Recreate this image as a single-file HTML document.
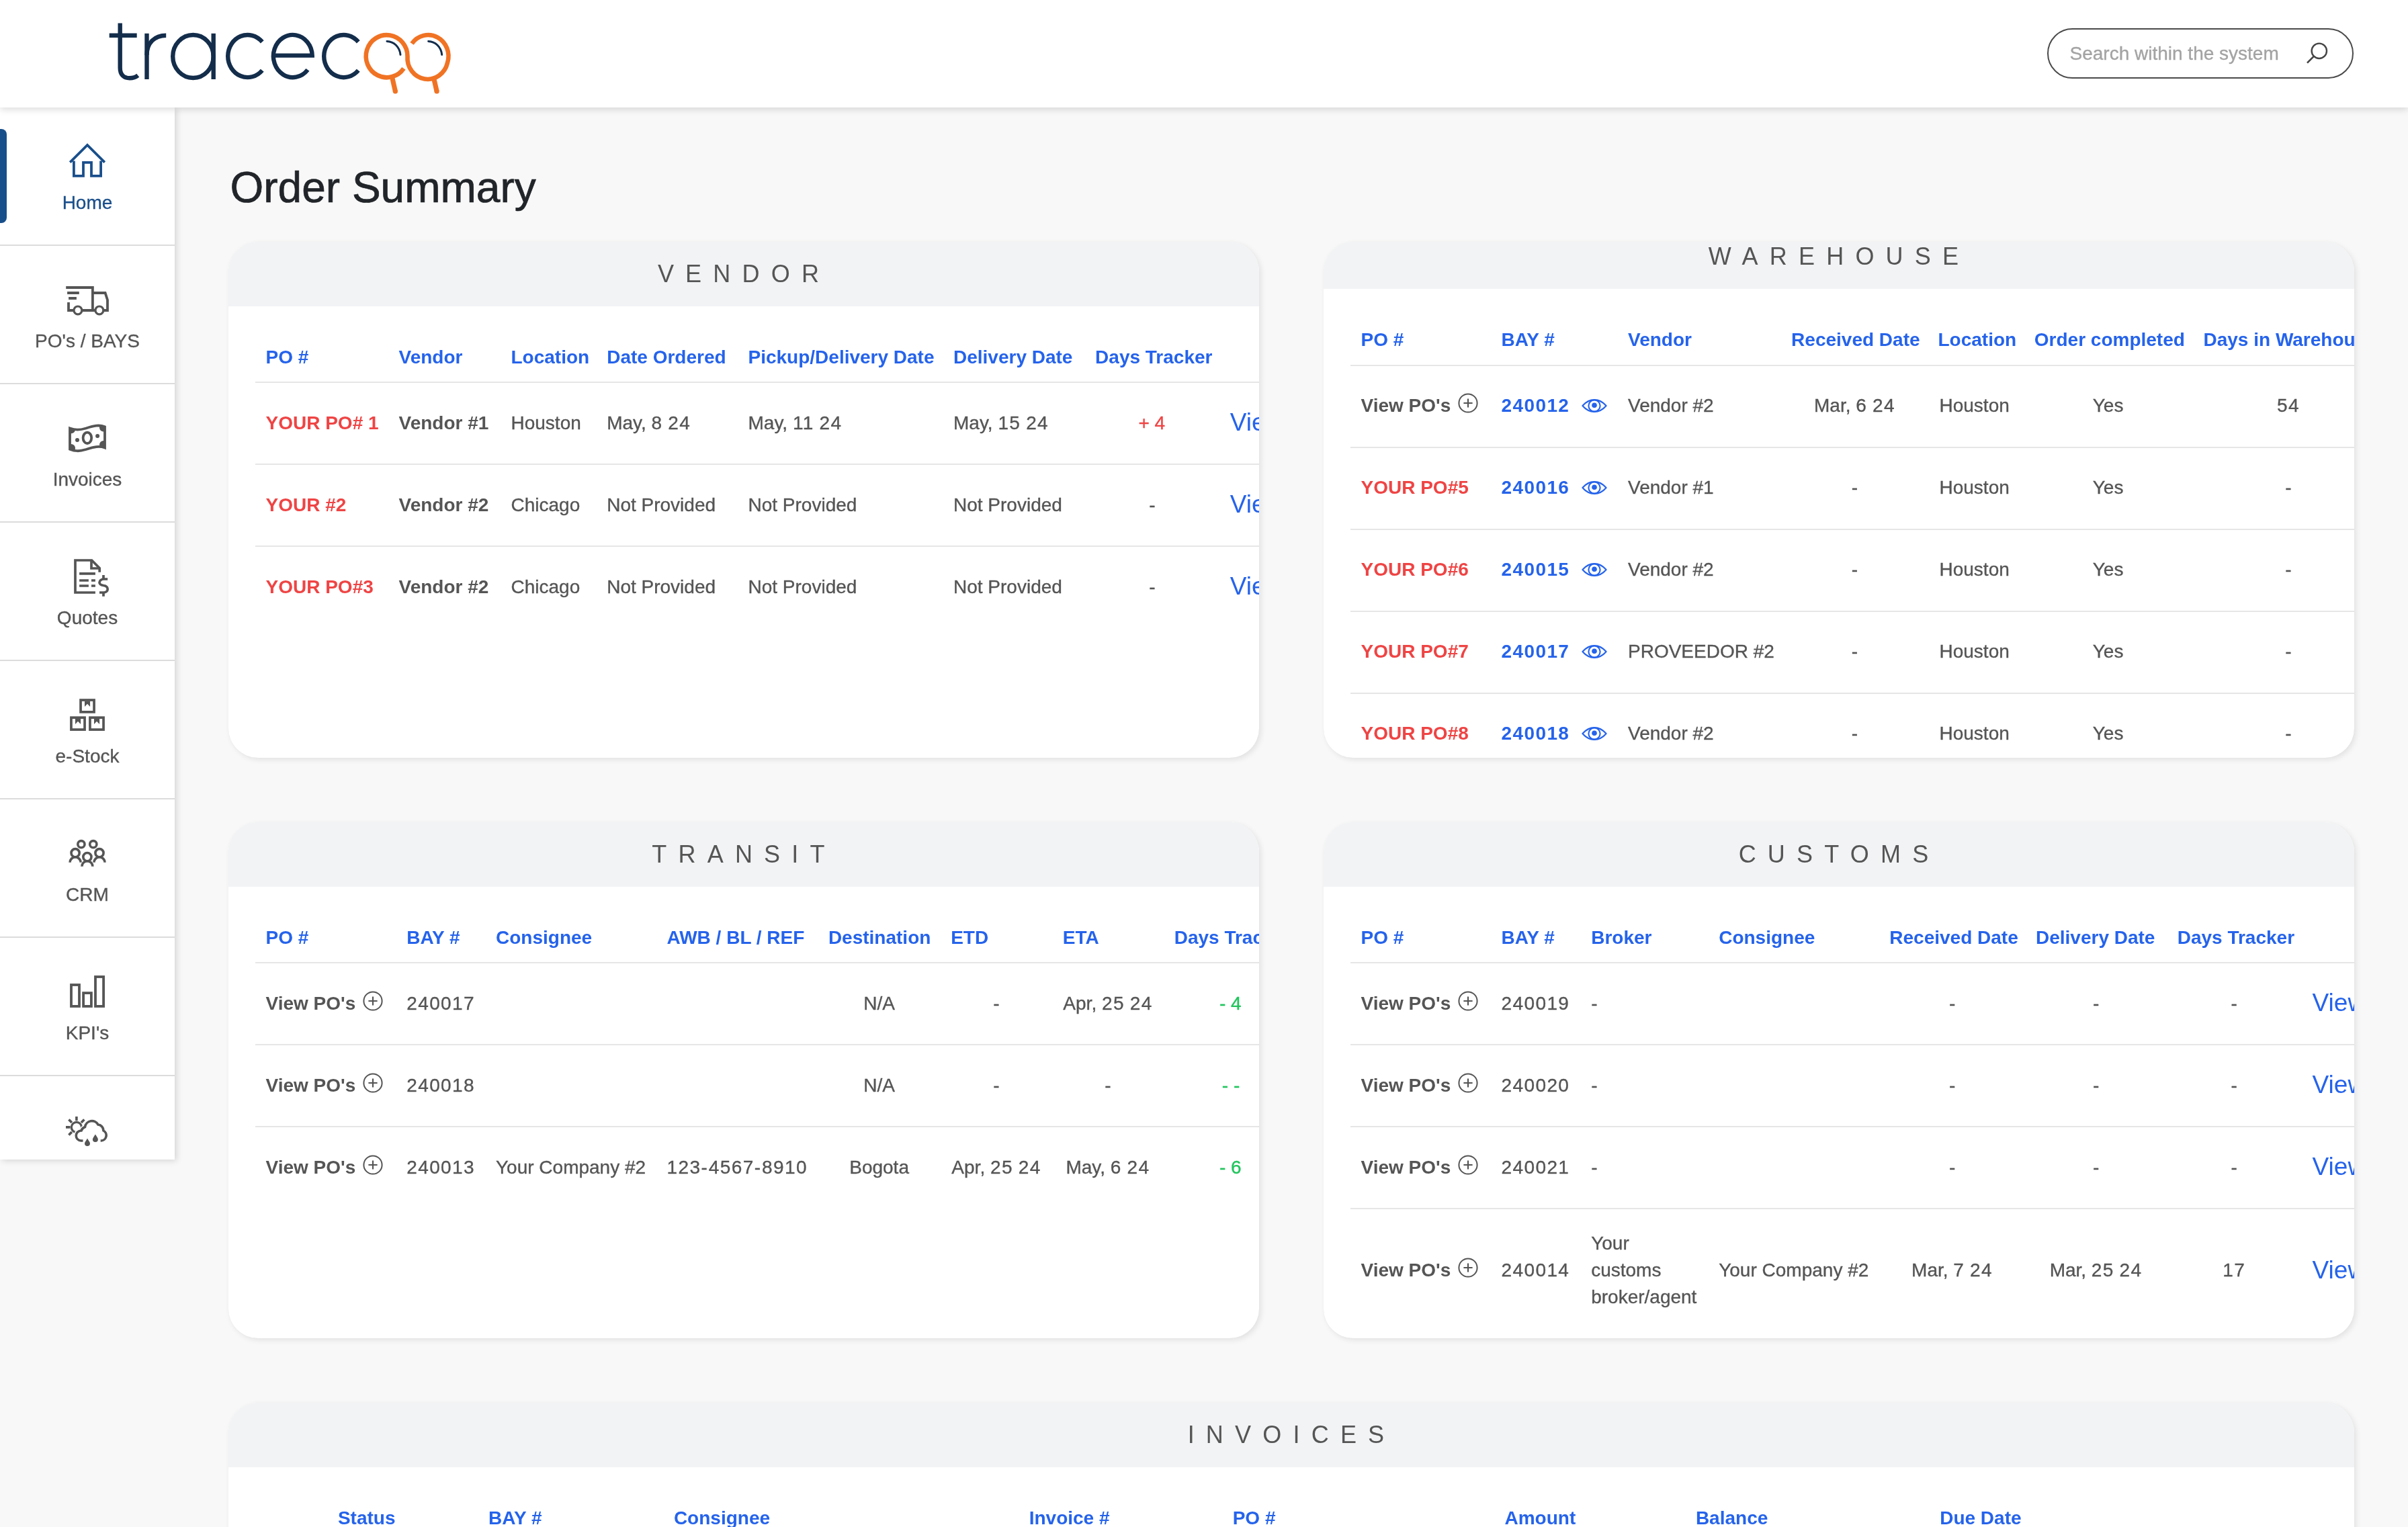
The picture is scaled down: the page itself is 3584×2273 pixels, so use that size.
<!DOCTYPE html><html><head><meta charset="utf-8"><title>Order Summary</title><style>

*{margin:0;padding:0;box-sizing:border-box}
html,body{width:3584px;height:2273px;overflow:hidden;background:#f8f8f8;font-family:"Liberation Sans",sans-serif}
#root{position:relative;width:3584px;height:2273px;overflow:hidden;will-change:transform}
.t{position:absolute;white-space:nowrap}
.d{letter-spacing:1.4px}
.h{letter-spacing:2px}
.ic{position:absolute;overflow:visible}
.ln{position:absolute}
#hdr{position:absolute;left:0;top:0;width:3584px;height:160px;background:#fff;box-shadow:0 3px 10px rgba(0,0,0,0.14);z-index:0}
#search{position:absolute;left:3047px;top:42px;width:456px;height:75px;border:2.2px solid #4a4a4a;border-radius:38px;background:#fff}
#side{position:absolute;left:0;top:160px;width:260px;height:1566px;background:#fff;box-shadow:3px 2px 9px rgba(0,0,0,0.14)}
#active{position:absolute;left:0;top:192px;width:10px;height:139.5px;background:#174f8a;border-radius:0 8px 8px 0}
.card{position:absolute;background:#fff;border-radius:44px;overflow:hidden;box-shadow:0 0 1.5px rgba(0,0,0,0.06),3px 3px 9px rgba(0,0,0,0.09)}
.inner{position:absolute;left:0;width:100%;height:1200px}
.band{position:absolute;left:0;top:0;width:100%;height:96px;background:#f2f3f5}

</style></head><body><div id="root">
<div class="t" style="left:342.5px;top:246.8px;font-size:64px;line-height:64px;color:#212529;-webkit-text-stroke:0.7px #212529;">Order Summary</div>
<div class="card" style="left:340px;top:359.5px;width:1534px;height:768px">
<div class="inner" style="top:0px">
<div class="band"></div>
<div class="t" style="left:167.5px;width:1200px;text-align:center;top:30.0px;font-size:36px;line-height:36px;color:#555555;letter-spacing:17.2px;">VENDOR</div>
<div class="t" style="left:55.5px;top:158.3px;font-size:28px;line-height:28px;color:#2563eb;font-weight:700;">PO #</div>
<div class="t" style="left:253.5px;top:158.3px;font-size:28px;line-height:28px;color:#2563eb;font-weight:700;">Vendor</div>
<div class="t" style="left:420.5px;top:158.3px;font-size:28px;line-height:28px;color:#2563eb;font-weight:700;">Location</div>
<div class="t" style="left:563.2px;top:158.3px;font-size:28px;line-height:28px;color:#2563eb;font-weight:700;">Date Ordered</div>
<div class="t" style="left:773.5px;top:158.3px;font-size:28px;line-height:28px;color:#2563eb;font-weight:700;">Pickup/Delivery Date</div>
<div class="t" style="left:1079.0px;top:158.3px;font-size:28px;line-height:28px;color:#2563eb;font-weight:700;">Delivery Date</div>
<div class="t" style="left:1290.1px;top:158.3px;font-size:28px;line-height:28px;color:#2563eb;font-weight:700;">Days Tracker</div>
<div class="ln" style="left:40px;top:208.5px;width:1494px;height:2px;background:#e6e6e6"></div>
<div class="t" style="left:55.5px;top:256.3px;font-size:28px;line-height:28px;color:#ef4444;font-weight:700;">YOUR PO# <span class="d">1</span></div>
<div class="t" style="left:253.5px;top:256.3px;font-size:28px;line-height:28px;color:#555555;font-weight:700;">Vendor #<span class="d">1</span></div>
<div class="t" style="left:420.5px;top:256.3px;font-size:28px;line-height:28px;color:#555555;-webkit-text-stroke:0.35px #555555;">Houston</div>
<div class="t" style="left:563.2px;top:256.3px;font-size:28px;line-height:28px;color:#555555;-webkit-text-stroke:0.35px #555555;">May, <span class="d">8</span> <span class="d">24</span></div>
<div class="t" style="left:773.5px;top:256.3px;font-size:28px;line-height:28px;color:#555555;-webkit-text-stroke:0.35px #555555;">May, <span class="d">11</span> <span class="d">24</span></div>
<div class="t" style="left:1079.0px;top:256.3px;font-size:28px;line-height:28px;color:#555555;-webkit-text-stroke:0.35px #555555;">May, <span class="d">15</span> <span class="d">24</span></div>
<div class="t" style="left:775.0px;width:1200px;text-align:center;top:256.3px;font-size:28px;line-height:28px;color:#ef4444;-webkit-text-stroke:0.35px #ef4444;">+ <span class="d">4</span></div>
<div class="t" style="left:1490.8px;top:250.7px;font-size:37px;line-height:37px;color:#2563eb;">View</div>
<div class="ln" style="left:40px;top:330.5px;width:1494px;height:2px;background:#e6e6e6"></div>
<div class="t" style="left:55.5px;top:378.3px;font-size:28px;line-height:28px;color:#ef4444;font-weight:700;">YOUR #<span class="d">2</span></div>
<div class="t" style="left:253.5px;top:378.3px;font-size:28px;line-height:28px;color:#555555;font-weight:700;">Vendor #<span class="d">2</span></div>
<div class="t" style="left:420.5px;top:378.3px;font-size:28px;line-height:28px;color:#555555;-webkit-text-stroke:0.35px #555555;">Chicago</div>
<div class="t" style="left:563.2px;top:378.3px;font-size:28px;line-height:28px;color:#555555;-webkit-text-stroke:0.35px #555555;">Not Provided</div>
<div class="t" style="left:773.5px;top:378.3px;font-size:28px;line-height:28px;color:#555555;-webkit-text-stroke:0.35px #555555;">Not Provided</div>
<div class="t" style="left:1079.0px;top:378.3px;font-size:28px;line-height:28px;color:#555555;-webkit-text-stroke:0.35px #555555;">Not Provided</div>
<div class="t" style="left:775.0px;width:1200px;text-align:center;top:378.3px;font-size:28px;line-height:28px;color:#555555;-webkit-text-stroke:0.35px #555555;">-</div>
<div class="t" style="left:1490.8px;top:372.7px;font-size:37px;line-height:37px;color:#2563eb;">View</div>
<div class="ln" style="left:40px;top:452.5px;width:1494px;height:2px;background:#e6e6e6"></div>
<div class="t" style="left:55.5px;top:500.3px;font-size:28px;line-height:28px;color:#ef4444;font-weight:700;">YOUR PO#<span class="d">3</span></div>
<div class="t" style="left:253.5px;top:500.3px;font-size:28px;line-height:28px;color:#555555;font-weight:700;">Vendor #<span class="d">2</span></div>
<div class="t" style="left:420.5px;top:500.3px;font-size:28px;line-height:28px;color:#555555;-webkit-text-stroke:0.35px #555555;">Chicago</div>
<div class="t" style="left:563.2px;top:500.3px;font-size:28px;line-height:28px;color:#555555;-webkit-text-stroke:0.35px #555555;">Not Provided</div>
<div class="t" style="left:773.5px;top:500.3px;font-size:28px;line-height:28px;color:#555555;-webkit-text-stroke:0.35px #555555;">Not Provided</div>
<div class="t" style="left:1079.0px;top:500.3px;font-size:28px;line-height:28px;color:#555555;-webkit-text-stroke:0.35px #555555;">Not Provided</div>
<div class="t" style="left:775.0px;width:1200px;text-align:center;top:500.3px;font-size:28px;line-height:28px;color:#555555;-webkit-text-stroke:0.35px #555555;">-</div>
<div class="t" style="left:1490.8px;top:494.7px;font-size:37px;line-height:37px;color:#2563eb;">View</div>
</div></div>
<div class="card" style="left:1970px;top:359.5px;width:1534px;height:768px">
<div class="inner" style="top:-25.5px">
<div class="band"></div>
<div class="t" style="left:167.5px;width:1200px;text-align:center;top:30.0px;font-size:36px;line-height:36px;color:#555555;letter-spacing:17.2px;">WAREHOUSE</div>
<div class="t" style="left:55.5px;top:158.3px;font-size:28px;line-height:28px;color:#2563eb;font-weight:700;">PO #</div>
<div class="t" style="left:264.5px;top:158.3px;font-size:28px;line-height:28px;color:#2563eb;font-weight:700;">BAY #</div>
<div class="t" style="left:453.0px;top:158.3px;font-size:28px;line-height:28px;color:#2563eb;font-weight:700;">Vendor</div>
<div class="t" style="left:696.1px;top:158.3px;font-size:28px;line-height:28px;color:#2563eb;font-weight:700;">Received Date</div>
<div class="t" style="left:914.5px;top:158.3px;font-size:28px;line-height:28px;color:#2563eb;font-weight:700;">Location</div>
<div class="t" style="left:1057.8px;top:158.3px;font-size:28px;line-height:28px;color:#2563eb;font-weight:700;">Order completed</div>
<div class="t" style="left:1309.5px;top:158.3px;font-size:28px;line-height:28px;color:#2563eb;font-weight:700;">Days in Warehouse</div>
<div class="ln" style="left:40px;top:208.5px;width:1494px;height:2px;background:#e6e6e6"></div>
<div class="t" style="left:55.5px;top:256.3px;font-size:28px;line-height:28px;color:#555555;font-weight:700;">View PO's</div>
<svg class="ic" style="left:199.4px;top:250px" width="32" height="32" viewBox="0 0 32 32"><circle cx="16" cy="16" r="13.6" fill="none" stroke="#555555" stroke-width="2"/><path d="M9.4 16H22.6M16 9.4V22.6" stroke="#555555" stroke-width="2.2"/></svg>
<div class="t" style="left:264.5px;top:256.3px;font-size:28px;line-height:28px;color:#2563eb;font-weight:700;"><span class="d">240012</span></div>
<svg class="ic" style="left:382.6px;top:258px" width="40" height="24" viewBox="0 0 40 24"><path d="M2.4 12 C8 5.5 14 3.1 20 3.1 S32 5.5 37.6 12 C32 18.5 26 20.9 20 20.9 S8 18.5 2.4 12Z" fill="none" stroke="#2563eb" stroke-width="2.1" stroke-linejoin="round"/><circle cx="20" cy="12" r="8.6" fill="none" stroke="#2563eb" stroke-width="2.1"/><circle cx="20" cy="11.3" r="3.8" fill="#2563eb"/></svg>
<div class="t" style="left:453.0px;top:256.3px;font-size:28px;line-height:28px;color:#555555;-webkit-text-stroke:0.35px #555555;">Vendor #<span class="d">2</span></div>
<div class="t" style="left:190.5px;width:1200px;text-align:center;top:256.3px;font-size:28px;line-height:28px;color:#555555;-webkit-text-stroke:0.35px #555555;">Mar, <span class="d">6</span> <span class="d">24</span></div>
<div class="t" style="left:916.5px;top:256.3px;font-size:28px;line-height:28px;color:#555555;-webkit-text-stroke:0.35px #555555;">Houston</div>
<div class="t" style="left:567.6px;width:1200px;text-align:center;top:256.3px;font-size:28px;line-height:28px;color:#555555;-webkit-text-stroke:0.35px #555555;">Yes</div>
<div class="t" style="left:836.0px;width:1200px;text-align:center;top:256.3px;font-size:28px;line-height:28px;color:#555555;-webkit-text-stroke:0.35px #555555;"><span class="d">54</span></div>
<div class="ln" style="left:40px;top:330.5px;width:1494px;height:2px;background:#e6e6e6"></div>
<div class="t" style="left:55.5px;top:378.3px;font-size:28px;line-height:28px;color:#ef4444;font-weight:700;">YOUR PO#<span class="d">5</span></div>
<div class="t" style="left:264.5px;top:378.3px;font-size:28px;line-height:28px;color:#2563eb;font-weight:700;"><span class="d">240016</span></div>
<svg class="ic" style="left:382.6px;top:380px" width="40" height="24" viewBox="0 0 40 24"><path d="M2.4 12 C8 5.5 14 3.1 20 3.1 S32 5.5 37.6 12 C32 18.5 26 20.9 20 20.9 S8 18.5 2.4 12Z" fill="none" stroke="#2563eb" stroke-width="2.1" stroke-linejoin="round"/><circle cx="20" cy="12" r="8.6" fill="none" stroke="#2563eb" stroke-width="2.1"/><circle cx="20" cy="11.3" r="3.8" fill="#2563eb"/></svg>
<div class="t" style="left:453.0px;top:378.3px;font-size:28px;line-height:28px;color:#555555;-webkit-text-stroke:0.35px #555555;">Vendor #<span class="d">1</span></div>
<div class="t" style="left:190.5px;width:1200px;text-align:center;top:378.3px;font-size:28px;line-height:28px;color:#555555;-webkit-text-stroke:0.35px #555555;">-</div>
<div class="t" style="left:916.5px;top:378.3px;font-size:28px;line-height:28px;color:#555555;-webkit-text-stroke:0.35px #555555;">Houston</div>
<div class="t" style="left:567.6px;width:1200px;text-align:center;top:378.3px;font-size:28px;line-height:28px;color:#555555;-webkit-text-stroke:0.35px #555555;">Yes</div>
<div class="t" style="left:836.0px;width:1200px;text-align:center;top:378.3px;font-size:28px;line-height:28px;color:#555555;-webkit-text-stroke:0.35px #555555;">-</div>
<div class="ln" style="left:40px;top:452.5px;width:1494px;height:2px;background:#e6e6e6"></div>
<div class="t" style="left:55.5px;top:500.3px;font-size:28px;line-height:28px;color:#ef4444;font-weight:700;">YOUR PO#<span class="d">6</span></div>
<div class="t" style="left:264.5px;top:500.3px;font-size:28px;line-height:28px;color:#2563eb;font-weight:700;"><span class="d">240015</span></div>
<svg class="ic" style="left:382.6px;top:502px" width="40" height="24" viewBox="0 0 40 24"><path d="M2.4 12 C8 5.5 14 3.1 20 3.1 S32 5.5 37.6 12 C32 18.5 26 20.9 20 20.9 S8 18.5 2.4 12Z" fill="none" stroke="#2563eb" stroke-width="2.1" stroke-linejoin="round"/><circle cx="20" cy="12" r="8.6" fill="none" stroke="#2563eb" stroke-width="2.1"/><circle cx="20" cy="11.3" r="3.8" fill="#2563eb"/></svg>
<div class="t" style="left:453.0px;top:500.3px;font-size:28px;line-height:28px;color:#555555;-webkit-text-stroke:0.35px #555555;">Vendor #<span class="d">2</span></div>
<div class="t" style="left:190.5px;width:1200px;text-align:center;top:500.3px;font-size:28px;line-height:28px;color:#555555;-webkit-text-stroke:0.35px #555555;">-</div>
<div class="t" style="left:916.5px;top:500.3px;font-size:28px;line-height:28px;color:#555555;-webkit-text-stroke:0.35px #555555;">Houston</div>
<div class="t" style="left:567.6px;width:1200px;text-align:center;top:500.3px;font-size:28px;line-height:28px;color:#555555;-webkit-text-stroke:0.35px #555555;">Yes</div>
<div class="t" style="left:836.0px;width:1200px;text-align:center;top:500.3px;font-size:28px;line-height:28px;color:#555555;-webkit-text-stroke:0.35px #555555;">-</div>
<div class="ln" style="left:40px;top:574.5px;width:1494px;height:2px;background:#e6e6e6"></div>
<div class="t" style="left:55.5px;top:622.3px;font-size:28px;line-height:28px;color:#ef4444;font-weight:700;">YOUR PO#<span class="d">7</span></div>
<div class="t" style="left:264.5px;top:622.3px;font-size:28px;line-height:28px;color:#2563eb;font-weight:700;"><span class="d">240017</span></div>
<svg class="ic" style="left:382.6px;top:624px" width="40" height="24" viewBox="0 0 40 24"><path d="M2.4 12 C8 5.5 14 3.1 20 3.1 S32 5.5 37.6 12 C32 18.5 26 20.9 20 20.9 S8 18.5 2.4 12Z" fill="none" stroke="#2563eb" stroke-width="2.1" stroke-linejoin="round"/><circle cx="20" cy="12" r="8.6" fill="none" stroke="#2563eb" stroke-width="2.1"/><circle cx="20" cy="11.3" r="3.8" fill="#2563eb"/></svg>
<div class="t" style="left:453.0px;top:622.3px;font-size:28px;line-height:28px;color:#555555;-webkit-text-stroke:0.35px #555555;">PROVEEDOR #<span class="d">2</span></div>
<div class="t" style="left:190.5px;width:1200px;text-align:center;top:622.3px;font-size:28px;line-height:28px;color:#555555;-webkit-text-stroke:0.35px #555555;">-</div>
<div class="t" style="left:916.5px;top:622.3px;font-size:28px;line-height:28px;color:#555555;-webkit-text-stroke:0.35px #555555;">Houston</div>
<div class="t" style="left:567.6px;width:1200px;text-align:center;top:622.3px;font-size:28px;line-height:28px;color:#555555;-webkit-text-stroke:0.35px #555555;">Yes</div>
<div class="t" style="left:836.0px;width:1200px;text-align:center;top:622.3px;font-size:28px;line-height:28px;color:#555555;-webkit-text-stroke:0.35px #555555;">-</div>
<div class="ln" style="left:40px;top:696.5px;width:1494px;height:2px;background:#e6e6e6"></div>
<div class="t" style="left:55.5px;top:744.3px;font-size:28px;line-height:28px;color:#ef4444;font-weight:700;">YOUR PO#<span class="d">8</span></div>
<div class="t" style="left:264.5px;top:744.3px;font-size:28px;line-height:28px;color:#2563eb;font-weight:700;"><span class="d">240018</span></div>
<svg class="ic" style="left:382.6px;top:746px" width="40" height="24" viewBox="0 0 40 24"><path d="M2.4 12 C8 5.5 14 3.1 20 3.1 S32 5.5 37.6 12 C32 18.5 26 20.9 20 20.9 S8 18.5 2.4 12Z" fill="none" stroke="#2563eb" stroke-width="2.1" stroke-linejoin="round"/><circle cx="20" cy="12" r="8.6" fill="none" stroke="#2563eb" stroke-width="2.1"/><circle cx="20" cy="11.3" r="3.8" fill="#2563eb"/></svg>
<div class="t" style="left:453.0px;top:744.3px;font-size:28px;line-height:28px;color:#555555;-webkit-text-stroke:0.35px #555555;">Vendor #<span class="d">2</span></div>
<div class="t" style="left:190.5px;width:1200px;text-align:center;top:744.3px;font-size:28px;line-height:28px;color:#555555;-webkit-text-stroke:0.35px #555555;">-</div>
<div class="t" style="left:916.5px;top:744.3px;font-size:28px;line-height:28px;color:#555555;-webkit-text-stroke:0.35px #555555;">Houston</div>
<div class="t" style="left:567.6px;width:1200px;text-align:center;top:744.3px;font-size:28px;line-height:28px;color:#555555;-webkit-text-stroke:0.35px #555555;">Yes</div>
<div class="t" style="left:836.0px;width:1200px;text-align:center;top:744.3px;font-size:28px;line-height:28px;color:#555555;-webkit-text-stroke:0.35px #555555;">-</div>
</div></div>
<div class="card" style="left:340px;top:1223.5px;width:1534px;height:768px">
<div class="inner" style="top:0px">
<div class="band"></div>
<div class="t" style="left:167.5px;width:1200px;text-align:center;top:30.0px;font-size:36px;line-height:36px;color:#555555;letter-spacing:17.2px;">TRANSIT</div>
<div class="t" style="left:55.5px;top:158.3px;font-size:28px;line-height:28px;color:#2563eb;font-weight:700;">PO #</div>
<div class="t" style="left:265.2px;top:158.3px;font-size:28px;line-height:28px;color:#2563eb;font-weight:700;">BAY #</div>
<div class="t" style="left:398.0px;top:158.3px;font-size:28px;line-height:28px;color:#2563eb;font-weight:700;">Consignee</div>
<div class="t" style="left:652.5px;top:158.3px;font-size:28px;line-height:28px;color:#2563eb;font-weight:700;">AWB / BL / REF</div>
<div class="t" style="left:892.9px;top:158.3px;font-size:28px;line-height:28px;color:#2563eb;font-weight:700;">Destination</div>
<div class="t" style="left:1075.2px;top:158.3px;font-size:28px;line-height:28px;color:#2563eb;font-weight:700;">ETD</div>
<div class="t" style="left:1241.8px;top:158.3px;font-size:28px;line-height:28px;color:#2563eb;font-weight:700;">ETA</div>
<div class="t" style="left:1407.7px;top:158.3px;font-size:28px;line-height:28px;color:#2563eb;font-weight:700;">Days Tracker</div>
<div class="ln" style="left:40px;top:208.5px;width:1494px;height:2px;background:#e6e6e6"></div>
<div class="t" style="left:55.5px;top:256.3px;font-size:28px;line-height:28px;color:#555555;font-weight:700;">View PO's</div>
<svg class="ic" style="left:199.4px;top:250px" width="32" height="32" viewBox="0 0 32 32"><circle cx="16" cy="16" r="13.6" fill="none" stroke="#555555" stroke-width="2"/><path d="M9.4 16H22.6M16 9.4V22.6" stroke="#555555" stroke-width="2.2"/></svg>
<div class="t" style="left:265.2px;top:256.3px;font-size:28px;line-height:28px;color:#555555;-webkit-text-stroke:0.35px #555555;"><span class="d">240017</span></div>
<div class="t" style="left:398.0px;top:256.3px;font-size:28px;line-height:28px;color:#555555;-webkit-text-stroke:0.35px #555555;"></div>
<div class="t" style="left:652.5px;top:256.3px;font-size:28px;line-height:28px;color:#555555;-webkit-text-stroke:0.35px #555555;"></div>
<div class="t" style="left:368.6px;width:1200px;text-align:center;top:256.3px;font-size:28px;line-height:28px;color:#555555;-webkit-text-stroke:0.35px #555555;">N/A</div>
<div class="t" style="left:543.0px;width:1200px;text-align:center;top:256.3px;font-size:28px;line-height:28px;color:#555555;-webkit-text-stroke:0.35px #555555;">-</div>
<div class="t" style="left:709.0px;width:1200px;text-align:center;top:256.3px;font-size:28px;line-height:28px;color:#555555;-webkit-text-stroke:0.35px #555555;">Apr, <span class="d">25</span> <span class="d">24</span></div>
<div class="t" style="left:892.0px;width:1200px;text-align:center;top:256.3px;font-size:28px;line-height:28px;color:#22c55e;-webkit-text-stroke:0.35px #22c55e;">- <span class="d">4</span></div>
<div class="ln" style="left:40px;top:330.5px;width:1494px;height:2px;background:#e6e6e6"></div>
<div class="t" style="left:55.5px;top:378.3px;font-size:28px;line-height:28px;color:#555555;font-weight:700;">View PO's</div>
<svg class="ic" style="left:199.4px;top:372px" width="32" height="32" viewBox="0 0 32 32"><circle cx="16" cy="16" r="13.6" fill="none" stroke="#555555" stroke-width="2"/><path d="M9.4 16H22.6M16 9.4V22.6" stroke="#555555" stroke-width="2.2"/></svg>
<div class="t" style="left:265.2px;top:378.3px;font-size:28px;line-height:28px;color:#555555;-webkit-text-stroke:0.35px #555555;"><span class="d">240018</span></div>
<div class="t" style="left:398.0px;top:378.3px;font-size:28px;line-height:28px;color:#555555;-webkit-text-stroke:0.35px #555555;"></div>
<div class="t" style="left:652.5px;top:378.3px;font-size:28px;line-height:28px;color:#555555;-webkit-text-stroke:0.35px #555555;"></div>
<div class="t" style="left:368.6px;width:1200px;text-align:center;top:378.3px;font-size:28px;line-height:28px;color:#555555;-webkit-text-stroke:0.35px #555555;">N/A</div>
<div class="t" style="left:543.0px;width:1200px;text-align:center;top:378.3px;font-size:28px;line-height:28px;color:#555555;-webkit-text-stroke:0.35px #555555;">-</div>
<div class="t" style="left:709.0px;width:1200px;text-align:center;top:378.3px;font-size:28px;line-height:28px;color:#555555;-webkit-text-stroke:0.35px #555555;">-</div>
<div class="t" style="left:892.0px;width:1200px;text-align:center;top:378.3px;font-size:28px;line-height:28px;color:#22c55e;-webkit-text-stroke:0.35px #22c55e;">- -</div>
<div class="ln" style="left:40px;top:452.5px;width:1494px;height:2px;background:#e6e6e6"></div>
<div class="t" style="left:55.5px;top:500.3px;font-size:28px;line-height:28px;color:#555555;font-weight:700;">View PO's</div>
<svg class="ic" style="left:199.4px;top:494px" width="32" height="32" viewBox="0 0 32 32"><circle cx="16" cy="16" r="13.6" fill="none" stroke="#555555" stroke-width="2"/><path d="M9.4 16H22.6M16 9.4V22.6" stroke="#555555" stroke-width="2.2"/></svg>
<div class="t" style="left:265.2px;top:500.3px;font-size:28px;line-height:28px;color:#555555;-webkit-text-stroke:0.35px #555555;"><span class="d">240013</span></div>
<div class="t" style="left:398.0px;top:500.3px;font-size:28px;line-height:28px;color:#555555;-webkit-text-stroke:0.35px #555555;">Your Company #<span class="d">2</span></div>
<div class="t" style="left:652.5px;top:500.3px;font-size:28px;line-height:28px;color:#555555;-webkit-text-stroke:0.35px #555555;"><span class="d">123</span><span class="h">-</span><span class="d">4567</span><span class="h">-</span><span class="d">8910</span></div>
<div class="t" style="left:368.6px;width:1200px;text-align:center;top:500.3px;font-size:28px;line-height:28px;color:#555555;-webkit-text-stroke:0.35px #555555;">Bogota</div>
<div class="t" style="left:543.0px;width:1200px;text-align:center;top:500.3px;font-size:28px;line-height:28px;color:#555555;-webkit-text-stroke:0.35px #555555;">Apr, <span class="d">25</span> <span class="d">24</span></div>
<div class="t" style="left:709.0px;width:1200px;text-align:center;top:500.3px;font-size:28px;line-height:28px;color:#555555;-webkit-text-stroke:0.35px #555555;">May, <span class="d">6</span> <span class="d">24</span></div>
<div class="t" style="left:892.0px;width:1200px;text-align:center;top:500.3px;font-size:28px;line-height:28px;color:#22c55e;-webkit-text-stroke:0.35px #22c55e;">- <span class="d">6</span></div>
</div></div>
<div class="card" style="left:1970px;top:1223.5px;width:1534px;height:768px">
<div class="inner" style="top:0px">
<div class="band"></div>
<div class="t" style="left:167.5px;width:1200px;text-align:center;top:30.0px;font-size:36px;line-height:36px;color:#555555;letter-spacing:17.2px;">CUSTOMS</div>
<div class="t" style="left:55.5px;top:158.3px;font-size:28px;line-height:28px;color:#2563eb;font-weight:700;">PO #</div>
<div class="t" style="left:264.5px;top:158.3px;font-size:28px;line-height:28px;color:#2563eb;font-weight:700;">BAY #</div>
<div class="t" style="left:398.2px;top:158.3px;font-size:28px;line-height:28px;color:#2563eb;font-weight:700;">Broker</div>
<div class="t" style="left:588.2px;top:158.3px;font-size:28px;line-height:28px;color:#2563eb;font-weight:700;">Consignee</div>
<div class="t" style="left:842.3px;top:158.3px;font-size:28px;line-height:28px;color:#2563eb;font-weight:700;">Received Date</div>
<div class="t" style="left:1060.0px;top:158.3px;font-size:28px;line-height:28px;color:#2563eb;font-weight:700;">Delivery Date</div>
<div class="t" style="left:1270.7px;top:158.3px;font-size:28px;line-height:28px;color:#2563eb;font-weight:700;">Days Tracker</div>
<div class="ln" style="left:40px;top:208.5px;width:1494px;height:2px;background:#e6e6e6"></div>
<div class="t" style="left:55.5px;top:256.3px;font-size:28px;line-height:28px;color:#555555;font-weight:700;">View PO's</div>
<svg class="ic" style="left:199.4px;top:250px" width="32" height="32" viewBox="0 0 32 32"><circle cx="16" cy="16" r="13.6" fill="none" stroke="#555555" stroke-width="2"/><path d="M9.4 16H22.6M16 9.4V22.6" stroke="#555555" stroke-width="2.2"/></svg>
<div class="t" style="left:264.5px;top:256.3px;font-size:28px;line-height:28px;color:#555555;-webkit-text-stroke:0.35px #555555;"><span class="d">240019</span></div>
<div class="t" style="left:398.2px;top:256.3px;font-size:28px;line-height:28px;color:#555555;-webkit-text-stroke:0.35px #555555;">-</div>
<div class="t" style="left:588.2px;top:256.3px;font-size:28px;line-height:28px;color:#555555;-webkit-text-stroke:0.35px #555555;"></div>
<div class="t" style="left:335.6px;width:1200px;text-align:center;top:256.3px;font-size:28px;line-height:28px;color:#555555;-webkit-text-stroke:0.35px #555555;">-</div>
<div class="t" style="left:549.6px;width:1200px;text-align:center;top:256.3px;font-size:28px;line-height:28px;color:#555555;-webkit-text-stroke:0.35px #555555;">-</div>
<div class="t" style="left:755.2px;width:1200px;text-align:center;top:256.3px;font-size:28px;line-height:28px;color:#555555;-webkit-text-stroke:0.35px #555555;">-</div>
<div class="t" style="left:1471.6px;top:250.7px;font-size:37px;line-height:37px;color:#2563eb;">View</div>
<div class="ln" style="left:40px;top:330.5px;width:1494px;height:2px;background:#e6e6e6"></div>
<div class="t" style="left:55.5px;top:378.3px;font-size:28px;line-height:28px;color:#555555;font-weight:700;">View PO's</div>
<svg class="ic" style="left:199.4px;top:372px" width="32" height="32" viewBox="0 0 32 32"><circle cx="16" cy="16" r="13.6" fill="none" stroke="#555555" stroke-width="2"/><path d="M9.4 16H22.6M16 9.4V22.6" stroke="#555555" stroke-width="2.2"/></svg>
<div class="t" style="left:264.5px;top:378.3px;font-size:28px;line-height:28px;color:#555555;-webkit-text-stroke:0.35px #555555;"><span class="d">240020</span></div>
<div class="t" style="left:398.2px;top:378.3px;font-size:28px;line-height:28px;color:#555555;-webkit-text-stroke:0.35px #555555;">-</div>
<div class="t" style="left:588.2px;top:378.3px;font-size:28px;line-height:28px;color:#555555;-webkit-text-stroke:0.35px #555555;"></div>
<div class="t" style="left:335.6px;width:1200px;text-align:center;top:378.3px;font-size:28px;line-height:28px;color:#555555;-webkit-text-stroke:0.35px #555555;">-</div>
<div class="t" style="left:549.6px;width:1200px;text-align:center;top:378.3px;font-size:28px;line-height:28px;color:#555555;-webkit-text-stroke:0.35px #555555;">-</div>
<div class="t" style="left:755.2px;width:1200px;text-align:center;top:378.3px;font-size:28px;line-height:28px;color:#555555;-webkit-text-stroke:0.35px #555555;">-</div>
<div class="t" style="left:1471.6px;top:372.7px;font-size:37px;line-height:37px;color:#2563eb;">View</div>
<div class="ln" style="left:40px;top:452.5px;width:1494px;height:2px;background:#e6e6e6"></div>
<div class="t" style="left:55.5px;top:500.3px;font-size:28px;line-height:28px;color:#555555;font-weight:700;">View PO's</div>
<svg class="ic" style="left:199.4px;top:494px" width="32" height="32" viewBox="0 0 32 32"><circle cx="16" cy="16" r="13.6" fill="none" stroke="#555555" stroke-width="2"/><path d="M9.4 16H22.6M16 9.4V22.6" stroke="#555555" stroke-width="2.2"/></svg>
<div class="t" style="left:264.5px;top:500.3px;font-size:28px;line-height:28px;color:#555555;-webkit-text-stroke:0.35px #555555;"><span class="d">240021</span></div>
<div class="t" style="left:398.2px;top:500.3px;font-size:28px;line-height:28px;color:#555555;-webkit-text-stroke:0.35px #555555;">-</div>
<div class="t" style="left:588.2px;top:500.3px;font-size:28px;line-height:28px;color:#555555;-webkit-text-stroke:0.35px #555555;"></div>
<div class="t" style="left:335.6px;width:1200px;text-align:center;top:500.3px;font-size:28px;line-height:28px;color:#555555;-webkit-text-stroke:0.35px #555555;">-</div>
<div class="t" style="left:549.6px;width:1200px;text-align:center;top:500.3px;font-size:28px;line-height:28px;color:#555555;-webkit-text-stroke:0.35px #555555;">-</div>
<div class="t" style="left:755.2px;width:1200px;text-align:center;top:500.3px;font-size:28px;line-height:28px;color:#555555;-webkit-text-stroke:0.35px #555555;">-</div>
<div class="t" style="left:1471.6px;top:494.7px;font-size:37px;line-height:37px;color:#2563eb;">View</div>
<div class="ln" style="left:40px;top:574.5px;width:1494px;height:2px;background:#e6e6e6"></div>
<div class="t" style="left:55.5px;top:653.7px;font-size:28px;line-height:28px;color:#555555;font-weight:700;">View PO's</div>
<svg class="ic" style="left:199.4px;top:647.4px" width="32" height="32" viewBox="0 0 32 32"><circle cx="16" cy="16" r="13.6" fill="none" stroke="#555555" stroke-width="2"/><path d="M9.4 16H22.6M16 9.4V22.6" stroke="#555555" stroke-width="2.2"/></svg>
<div class="t" style="left:264.5px;top:653.7px;font-size:28px;line-height:28px;color:#555555;-webkit-text-stroke:0.35px #555555;"><span class="d">240014</span></div>
<div class="t" style="left:398.2px;top:613.7px;font-size:28px;line-height:28px;color:#555555;-webkit-text-stroke:0.35px #555555;">Your</div>
<div class="t" style="left:398.2px;top:653.7px;font-size:28px;line-height:28px;color:#555555;-webkit-text-stroke:0.35px #555555;">customs</div>
<div class="t" style="left:398.2px;top:693.7px;font-size:28px;line-height:28px;color:#555555;-webkit-text-stroke:0.35px #555555;">broker/agent</div>
<div class="t" style="left:588.2px;top:653.7px;font-size:28px;line-height:28px;color:#555555;-webkit-text-stroke:0.35px #555555;">Your Company #<span class="d">2</span></div>
<div class="t" style="left:335.6px;width:1200px;text-align:center;top:653.7px;font-size:28px;line-height:28px;color:#555555;-webkit-text-stroke:0.35px #555555;">Mar, <span class="d">7</span> <span class="d">24</span></div>
<div class="t" style="left:549.6px;width:1200px;text-align:center;top:653.7px;font-size:28px;line-height:28px;color:#555555;-webkit-text-stroke:0.35px #555555;">Mar, <span class="d">25</span> <span class="d">24</span></div>
<div class="t" style="left:755.2px;width:1200px;text-align:center;top:653.7px;font-size:28px;line-height:28px;color:#555555;-webkit-text-stroke:0.35px #555555;"><span class="d">17</span></div>
<div class="t" style="left:1471.6px;top:648.1px;font-size:37px;line-height:37px;color:#2563eb;">View</div>
</div></div>
<div class="card" style="left:340px;top:2088px;width:3164px;height:600px">
<div class="inner" style="top:0px">
<div class="band"></div>
<div class="t" style="left:982.5px;width:1200px;text-align:center;top:30.0px;font-size:36px;line-height:36px;color:#555555;letter-spacing:17.2px;">INVOICES</div>
<div class="t" style="left:162.9px;top:158.3px;font-size:28px;line-height:28px;color:#2563eb;font-weight:700;">Status</div>
<div class="t" style="left:387.1px;top:158.3px;font-size:28px;line-height:28px;color:#2563eb;font-weight:700;">BAY #</div>
<div class="t" style="left:662.9px;top:158.3px;font-size:28px;line-height:28px;color:#2563eb;font-weight:700;">Consignee</div>
<div class="t" style="left:1191.7px;top:158.3px;font-size:28px;line-height:28px;color:#2563eb;font-weight:700;">Invoice #</div>
<div class="t" style="left:1494.7px;top:158.3px;font-size:28px;line-height:28px;color:#2563eb;font-weight:700;">PO #</div>
<div class="t" style="left:1899.5px;top:158.3px;font-size:28px;line-height:28px;color:#2563eb;font-weight:700;">Amount</div>
<div class="t" style="left:2183.9px;top:158.3px;font-size:28px;line-height:28px;color:#2563eb;font-weight:700;">Balance</div>
<div class="t" style="left:2547.2px;top:158.3px;font-size:28px;line-height:28px;color:#2563eb;font-weight:700;">Due Date</div>
</div></div>
<div id="side"></div>
<div id="active"></div>
<div class="ln" style="left:0px;top:364px;width:260px;height:2px;background:#dcdcdc"></div>
<div class="ln" style="left:0px;top:570px;width:260px;height:2px;background:#dcdcdc"></div>
<div class="ln" style="left:0px;top:776px;width:260px;height:2px;background:#dcdcdc"></div>
<div class="ln" style="left:0px;top:982px;width:260px;height:2px;background:#dcdcdc"></div>
<div class="ln" style="left:0px;top:1188px;width:260px;height:2px;background:#dcdcdc"></div>
<div class="ln" style="left:0px;top:1394px;width:260px;height:2px;background:#dcdcdc"></div>
<div class="ln" style="left:0px;top:1600px;width:260px;height:2px;background:#dcdcdc"></div>
<div class="t" style="left:-470.0px;width:1200px;text-align:center;top:288.1px;font-size:28px;line-height:28px;color:#1a4f8b;-webkit-text-stroke:0.35px #1a4f8b;">Home</div>
<div class="t" style="left:-470.0px;width:1200px;text-align:center;top:494.1px;font-size:28px;line-height:28px;color:#555555;-webkit-text-stroke:0.35px #555555;">PO's / BAYS</div>
<div class="t" style="left:-470.0px;width:1200px;text-align:center;top:700.1px;font-size:28px;line-height:28px;color:#555555;-webkit-text-stroke:0.35px #555555;">Invoices</div>
<div class="t" style="left:-470.0px;width:1200px;text-align:center;top:906.1px;font-size:28px;line-height:28px;color:#555555;-webkit-text-stroke:0.35px #555555;">Quotes</div>
<div class="t" style="left:-470.0px;width:1200px;text-align:center;top:1112.1px;font-size:28px;line-height:28px;color:#555555;-webkit-text-stroke:0.35px #555555;">e-Stock</div>
<div class="t" style="left:-470.0px;width:1200px;text-align:center;top:1318.1px;font-size:28px;line-height:28px;color:#555555;-webkit-text-stroke:0.35px #555555;">CRM</div>
<div class="t" style="left:-470.0px;width:1200px;text-align:center;top:1524.1px;font-size:28px;line-height:28px;color:#555555;-webkit-text-stroke:0.35px #555555;">KPI's</div>
<svg class="ic" style="left:0;top:160px" width="260" height="1566" viewBox="0 160 260 1566">
<g fill="none" stroke="#1a4f8b" stroke-width="3.8" stroke-linejoin="miter">
<path d="M104.2 241.7 L130 215.9 L155.8 241.7"/>
<path d="M109.9 239.5 V261.9 H124 V241.9 H136 V261.9 H150.1 V239.5"/>
</g>
<g fill="none" stroke="#555555" stroke-width="3.8">
<path d="M98.2 428 H137.9 V462 H102 V450.1"/>
<path d="M137.9 436 H156.6 L160 446.5 V462 H137.9"/>
<path d="M100.1 436 H117.8 M102.1 444 H113.9"/>
</g>
<g fill="#fff" stroke="#555555" stroke-width="3.2">
<circle cx="115.9" cy="461.9" r="5.9"/><circle cx="147.9" cy="461.9" r="5.9"/>
</g>
<g fill="none" stroke="#555555" stroke-width="3.8">
<path d="M104 637.5 C112 640.5 118 640.5 128 637.5 C140 633.5 148 632 156 635.3 V666.5 C148 663.5 140 665 128 669 C118 672 112 672 104 668.8 Z"/>
<ellipse cx="129.9" cy="651.8" rx="6.3" ry="8.2"/>
</g>
<g fill="#555555">
<circle cx="115" cy="655" r="3"/><circle cx="145.1" cy="648.9" r="3"/>
</g>
<clipPath id="billclip"><path d="M104 637.5 C112 640.5 118 640.5 128 637.5 C140 633.5 148 632 156 635.3 V666.5 C148 663.5 140 665 128 669 C118 672 112 672 104 668.8 Z"/></clipPath>
<g fill="#555555" clip-path="url(#billclip)">
<circle cx="106" cy="639.3" r="6"/>
<circle cx="154" cy="636.5" r="6"/>
<circle cx="106" cy="667" r="6"/>
<circle cx="154" cy="662" r="6"/>
</g>
<g fill="none" stroke="#555555" stroke-width="3.7">
<path d="M141.9 882 H112 V834 H136.6 L148.2 845.8 V851.8"/>
<path d="M136 834 V846 H148"/>
<path d="M118.1 853.8 H141.9 M118.1 864 H131.9 M136 864 H141.9 M118.1 872 H131.9 M136 872 H141.9"/>
<path d="M154 856.1 V861 M154 881 V887.7"/>
<path d="M160.2 862 H154.5 C150.5 862 148 864.5 148 867 C148 870 151 871 154 871.5 C157.5 872 160.2 874 160.2 877 C160.2 880 157.5 882 154 882 H148"/>
</g>
<g fill="none" stroke="#555555" stroke-width="3.7">
<rect x="120.05" y="1042.05" width="20" height="17.8"/>
<rect x="105.95" y="1068.15" width="20.1" height="17.9"/>
<rect x="133.95" y="1068.15" width="20.1" height="17.9"/>
</g>
<g fill="#555555">
<path d="M126 1043.9 H134.1 V1052 L130 1047.7 L126 1052Z"/>
<path d="M112 1070 H120.1 V1078 L116 1073.7 L112 1078Z"/>
<path d="M140 1070 H148.1 V1078 L144 1073.7 L140 1078Z"/>
</g>
<g fill="none" stroke="#555555" stroke-width="3.6">
<circle cx="120.9" cy="1256.7" r="5.1"/><circle cx="138.8" cy="1256.7" r="5.1"/>
<circle cx="112.1" cy="1269.7" r="6.1"/><circle cx="148" cy="1269.7" r="6.1"/>
<path d="M104.1 1283.8 A8 8 0 0 1 120.1 1283.8"/>
<path d="M140 1283.8 A8 8 0 0 1 156 1283.8"/>
<circle cx="129.9" cy="1275.6" r="6.1"/>
<path d="M121.9 1289.7 A8 8 0 0 1 137.9 1289.7"/>
</g>
<g fill="none" stroke="#555555" stroke-width="3.8">
<rect x="106" y="1466" width="12" height="31.9"/>
<rect x="124.1" y="1478.1" width="11.8" height="19.8"/>
<rect x="142" y="1454" width="12.1" height="43.9"/>
</g>
<g fill="none" stroke="#555555">
<circle cx="113.9" cy="1677.9" r="7.6" stroke-width="3.2"/>
<path d="M113.9 1662 V1668.3 M98 1677.9 H104.6 M102.4 1666.4 L106.9 1670.9 M125.4 1666.4 L120.9 1670.9 M102.4 1689.4 L106.9 1684.9" stroke-width="3.6"/>
</g>
<path d="M123.5 1698 H120.5 A7.5 7.5 0 0 1 121 1683 A9.5 9.5 0 0 1 126.5 1677.5 A10.5 10.5 0 0 1 146 1674 A9 9 0 0 1 154 1683 A8 8 0 0 1 150.5 1698 H149.7" fill="#fff" stroke="#fff" stroke-width="6.6"/>
<path d="M123.5 1698 H120.5 A7.5 7.5 0 0 1 121 1683 A9.5 9.5 0 0 1 126.5 1677.5 A10.5 10.5 0 0 1 146 1674 A9 9 0 0 1 154 1683 A8 8 0 0 1 150.5 1698 H149.7" fill="none" stroke="#555555" stroke-width="3.6"/>
<g fill="#555555">
<path d="M130 1694.4 C128 1698 126 1700 126 1702 A4 4 0 0 0 134 1702 C134 1700 132 1698 130 1694.4Z"/>
<path d="M141.9 1688.5 C139.9 1692 137.9 1694 137.9 1696 A4 4 0 0 0 145.9 1696 C145.9 1694 143.9 1692 141.9 1688.5Z"/>
</g>
</svg>
<div id="hdr"></div>
<svg class="ic" style="left:150px;top:20px" width="540" height="130" viewBox="150 20 540 130">
<g fill="none" stroke="#132d4b" stroke-width="6.4">
<path d="M178.7 34.5 V101 C178.7 111 184 116.3 193 116.3 C198 116.3 202 115 205.3 112.3"/>
<path d="M162.7 52.7 H203.7"/>
<path d="M218.5 49.8 V118"/>
<path d="M218.5 82 C218.5 64 230 52.7 247.2 52.7"/>
<ellipse cx="287.4" cy="84" rx="30.2" ry="32"/>
<path d="M317.7 49.8 V118"/>
<path d="M390.27 62.41 A29.3 31.6 0 0 0 339.20 83.55 A29.3 31.6 0 0 0 390.27 104.69 "/><path d="M406.9 82.6 H464.7 A28.9 31.6 0 0 0 408.64 72.74 A28.9 31.6 0 0 0 457.94 103.86 "/><path d="M533.27 62.41 A29.3 31.6 0 0 0 482.20 83.55 A29.3 31.6 0 0 0 533.27 104.69 "/>
</g>
<g stroke="#f07324" stroke-width="7.2">
<path d="M583.4 114 L588.4 136"/>
<path d="M645.1 114 L650.1 136"/>
</g>
<g fill="#f07324"><circle cx="588.4" cy="136" r="3.6"/><circle cx="650.1" cy="136" r="3.6"/></g>
<path d="M600.91 101.83 A30.9 31.6 0 0 1 546.13 74.20 A30.9 31.6 0 0 1 606.50 83.70 A30.2 31.6 0 0 0 665.98 93.60 A30.2 31.6 0 0 0 613.02 64.90 " fill="none" stroke="#f07324" stroke-width="6.6"/>
<g fill="none" stroke="#132d4b" stroke-width="3" stroke-linecap="round">
<path d="M575.96 61.40 A20.5 22.3 0 0 1 595.99 81.37 "/><path d="M637.66 61.40 A20.5 22.3 0 0 1 657.69 81.37 "/>
</g>
</svg>
<div id="search"></div>
<div class="t" style="left:3080.5px;top:66.0px;font-size:28px;line-height:28px;color:#a3a3a3;-webkit-text-stroke:0.35px #a3a3a3;">Search within the system</div>
<svg class="ic" style="left:3425px;top:50px" width="50" height="50" viewBox="3425 50 50 50">
<circle cx="3451.8" cy="75.8" r="11.2" fill="none" stroke="#444" stroke-width="2.4"/>
<path d="M3444 83.6 L3434 93.6" stroke="#444" stroke-width="2.6"/></svg>
</div></body></html>
